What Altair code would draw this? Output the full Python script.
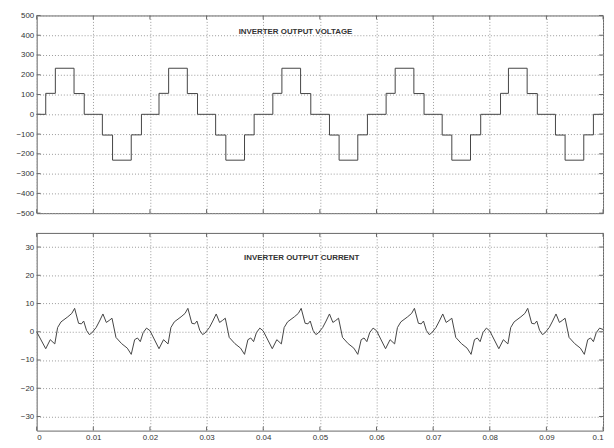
import altair as alt
import pandas as pd

FONT = "Liberation Sans Narrow, Liberation Sans, Arial, sans-serif"

# ---- Inverter output voltage: switching instants (s) and level after each switch (V)
volt_t = [0.0000, 0.0016, 0.0033, 0.0066, 0.0084, 0.0116, 0.0134, 0.0167, 0.0185,
          0.0200, 0.0216, 0.0233, 0.0266, 0.0284, 0.0316, 0.0334, 0.0367, 0.0384,
          0.0400, 0.0417, 0.0433, 0.0466, 0.0484, 0.0517, 0.0534, 0.0567, 0.0584,
          0.0600, 0.0617, 0.0633, 0.0666, 0.0684, 0.0716, 0.0733, 0.0766, 0.0784,
          0.0800, 0.0819, 0.0833, 0.0866, 0.0884, 0.0916, 0.0933, 0.0966, 0.0983,
          0.1000]
volt_v = [0, 106, 233, 105, 0, -105, -232, -104, 0,
          0, 106, 233, 105, 0, -105, -232, -104, 0,
          0, 106, 233, 105, 0, -105, -232, -104, 0,
          0, 106, 233, 105, 0, -105, -232, -104, 0,
          0, 106, 233, 105, 0, -105, -232, -104, 0,
          0]

# ---- Inverter output current
curr_t = [0.0000, 0.0016, 0.0024, 0.0032, 0.0037, 0.0043, 0.0055, 0.0062, 0.0067, 0.0074,
          0.0079, 0.0083, 0.0088, 0.0093, 0.0097, 0.0105, 0.0111, 0.0117, 0.0123, 0.0128,
          0.0133, 0.0140, 0.0150, 0.0160, 0.0167, 0.0173, 0.0178, 0.0183, 0.0188, 0.0194,
          0.0200, 0.0216, 0.0224, 0.0232, 0.0237, 0.0243, 0.0255, 0.0262, 0.0267, 0.0274,
          0.0279, 0.0283, 0.0288, 0.0293, 0.0297, 0.0305, 0.0311, 0.0317, 0.0323, 0.0328,
          0.0333, 0.0340, 0.0350, 0.0360, 0.0367, 0.0373, 0.0378, 0.0383, 0.0388, 0.0394,
          0.0400, 0.0416, 0.0424, 0.0432, 0.0437, 0.0443, 0.0455, 0.0462, 0.0467, 0.0474,
          0.0479, 0.0483, 0.0488, 0.0493, 0.0497, 0.0505, 0.0511, 0.0517, 0.0523, 0.0528,
          0.0533, 0.0540, 0.0550, 0.0560, 0.0567, 0.0573, 0.0578, 0.0583, 0.0588, 0.0594,
          0.0600, 0.0616, 0.0624, 0.0632, 0.0637, 0.0643, 0.0655, 0.0662, 0.0667, 0.0674,
          0.0679, 0.0683, 0.0688, 0.0693, 0.0697, 0.0705, 0.0711, 0.0717, 0.0723, 0.0728,
          0.0733, 0.0740, 0.0750, 0.0760, 0.0767, 0.0773, 0.0778, 0.0783, 0.0788, 0.0794,
          0.0800, 0.0816, 0.0824, 0.0832, 0.0837, 0.0843, 0.0855, 0.0862, 0.0867, 0.0874,
          0.0879, 0.0883, 0.0888, 0.0893, 0.0897, 0.0905, 0.0911, 0.0917, 0.0923, 0.0928,
          0.0933, 0.0940, 0.0950, 0.0960, 0.0967, 0.0973, 0.0978, 0.0983, 0.0988, 0.0994,
          0.1000]
curr_i = [0.0, -6.0, -2.8, -4.3, 1.5, 3.5, 5.3, 6.5, 8.3, 3.0,
          2.8, 3.8, 0.5, -1.0, -0.5, 1.5, 3.8, 6.3, 3.3, 4.0,
          4.8, -2.0, -4.2, -5.8, -8.0, -2.8, -2.2, -3.5, -0.3, 1.3,
          0.4, -6.0, -2.8, -4.3, 1.5, 3.5, 5.3, 6.5, 8.3, 3.0,
          2.8, 3.8, 0.5, -1.0, -0.5, 1.5, 3.8, 6.3, 3.3, 4.0,
          4.8, -2.0, -4.2, -5.8, -8.0, -2.8, -2.2, -3.5, -0.3, 1.3,
          0.3, -6.0, -2.8, -4.3, 1.5, 3.5, 5.3, 6.5, 8.3, 3.0,
          2.8, 3.8, 0.5, -1.0, -0.5, 1.5, 3.8, 6.3, 3.3, 4.0,
          4.8, -2.0, -4.2, -5.8, -8.0, -2.8, -2.2, -3.5, -0.3, 1.3,
          0.4, -6.0, -2.8, -4.3, 1.5, 3.5, 5.3, 6.5, 8.3, 3.0,
          2.8, 3.8, 0.5, -1.0, -0.5, 1.5, 3.8, 6.3, 3.3, 4.0,
          4.8, -2.0, -4.2, -5.8, -8.0, -2.8, -2.2, -3.5, -0.3, 1.3,
          0.3, -6.0, -2.8, -4.3, 1.5, 3.5, 5.3, 6.5, 8.3, 3.0,
          2.8, 3.8, 0.5, -1.0, -0.5, 1.5, 3.8, 6.3, 3.3, 4.0,
          4.8, -2.0, -4.2, -5.8, -8.0, -2.8, -2.2, -3.5, -0.3, 1.3,
          0.8]

x_ticks = [0, 0.01, 0.02, 0.03, 0.04, 0.05, 0.06, 0.07, 0.08, 0.09, 0.1]
volt_ticks = [-500, -400, -300, -200, -100, 0, 100, 200, 300, 400, 500]
curr_ticks = [-30, -20, -10, 0, 10, 20, 30]

titles = ["INVERTER OUTPUT VOLTAGE", "INVERTER OUTPUT CURRENT"]
title_t = [0.0457, 0.0468]
title_y = [415, 26.2]

W, H = 573, 200
LINE = "#444444"
FRAME = "#666666"
GRID = "#9a9a9a"
TXT = "#333333"

xdom = [0, 0.1]


def panel(df, yfield, ydom, yticks, title_df, show_xlabels):
    xscale = alt.Scale(domain=xdom, nice=False, zero=False)
    yscale = alt.Scale(domain=ydom, nice=False, zero=False)
    if show_xlabels:
        xaxis = alt.Axis(values=x_ticks, format="~g", title=None, grid=True,
                         gridDash=[1, 2], gridColor=GRID, gridWidth=1,
                         domain=False, ticks=False, labelFont=FONT,
                         labelFontSize=8, labelColor=TXT, labelPadding=3)
    else:
        xaxis = alt.Axis(values=x_ticks, title=None, grid=True, gridDash=[1, 2],
                         gridColor=GRID, gridWidth=1, domain=False, ticks=False,
                         labels=False)
    yaxis = alt.Axis(values=yticks, title=None, grid=True, gridDash=[1, 2],
                     gridColor=GRID, gridWidth=1, domain=False, ticks=False,
                     labelFont=FONT, labelFontSize=8, labelColor=TXT,
                     labelPadding=3, minExtent=28, maxExtent=28,
                     labelOverlap=False)

    X = alt.X("t:Q", scale=xscale, axis=xaxis)
    Y = alt.Y(f"{yfield}:Q", scale=yscale, axis=yaxis)

    interp = "step-after" if yfield == "v" else "linear"
    line = alt.Chart(df).mark_line(color=LINE, strokeWidth=1,
                                   interpolate=interp).encode(x=X, y=Y)

    xt = pd.DataFrame({"t": x_ticks})
    yt = pd.DataFrame({yfield: yticks})
    tick_top = alt.Chart(xt).mark_rule(color=FRAME, strokeWidth=1).encode(
        x=X, y=alt.value(0), y2=alt.value(4))
    tick_bot = alt.Chart(xt).mark_rule(color=FRAME, strokeWidth=1).encode(
        x=X, y=alt.value(H), y2=alt.value(H - 4))
    tick_l = alt.Chart(yt).mark_rule(color=FRAME, strokeWidth=1).encode(
        y=Y, x=alt.value(0), x2=alt.value(4))
    tick_r = alt.Chart(yt).mark_rule(color=FRAME, strokeWidth=1).encode(
        y=Y, x=alt.value(W - 4), x2=alt.value(W))

    label = alt.Chart(title_df).mark_text(font=FONT, fontSize=8, fontWeight="bold",
                                          color=TXT, align="center",
                                          baseline="middle").encode(
        x=X, y=Y, text="label:N")
    return alt.layer(line, tick_top, tick_bot, tick_l, tick_r, label).properties(
        width=W, height=H)


vdf = pd.DataFrame({"t": volt_t, "v": volt_v})
cdf = pd.DataFrame({"t": curr_t, "i": curr_i})
vt = pd.DataFrame({"t": [title_t[0]], "v": [title_y[0]], "label": [titles[0]]})
ct = pd.DataFrame({"t": [title_t[1]], "i": [title_y[1]], "label": [titles[1]]})

top = panel(vdf, "v", [-500, 500], volt_ticks, vt, False)
bottom = panel(cdf, "i", [-35, 35], curr_ticks, ct, True)

chart = alt.vconcat(top, bottom, spacing=20, bounds="flush").properties(
    padding={"left": 0, "top": 0, "right": 0, "bottom": 0},
    background="white",
).configure_view(stroke=FRAME, strokeWidth=1)

chart.save("out.html", embed_options={"renderer": "svg", "actions": False})
